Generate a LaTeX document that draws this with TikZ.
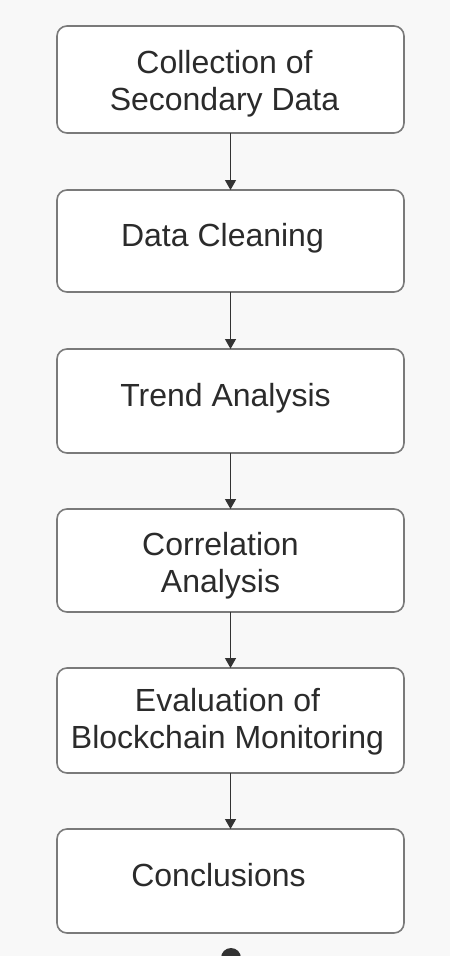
\documentclass[tikz,border=0pt]{standalone}
\usepackage{fontspec}
\setmainfont{Liberation Sans}
\usetikzlibrary{arrows.meta}
\definecolor{pagebg}{HTML}{F8F8F8}
\definecolor{boxline}{HTML}{7A7A7A}
\definecolor{ink}{HTML}{2B2B2B}
\definecolor{wire}{HTML}{333333}
\tikzset{
  stepbox/.style={draw=boxline, line width=1.6pt, fill=white, rounded corners=10pt,
    minimum width=347pt, inner sep=0pt, outer sep=0pt},
  lbl/.style={text=ink, font=\fontsize{32}{37}\selectfont, align=center, inner sep=0pt},
  flow/.style={draw=wire, line width=1.3pt, -{Triangle[length=10pt,width=11pt]}}
}
\begin{document}
\begin{tikzpicture}[x=1pt,y=-1pt]
  \useasboundingbox (0,0) rectangle (450,956);
  \clip (0,0) rectangle (450,956);
  \fill[pagebg] (0,0) rectangle (450,956);

  % process steps: box centre y and height
  \node[stepbox, minimum height=107pt] (s1) at (230.5,79.5) {};
  \node[stepbox, minimum height=102pt] (s2) at (230.5,241) {};
  \node[stepbox, minimum height=104pt] (s3) at (230.5,401) {};
  \node[stepbox, minimum height=103pt] (s4) at (230.5,560.5) {};
  \node[stepbox, minimum height=105pt] (s5) at (230.5,720.5) {};
  \node[stepbox, minimum height=104pt] (s6) at (230.5,881) {};

  \node[lbl] (t1) at ([xshift=-6pt,yshift=-4pt]s1.center) {Collection of\\Secondary Data};
  \node[lbl] (t2) at ([xshift=-8pt,yshift=3pt]s2.center) {Data Cleaning};
  \node[lbl] (t3) at ([xshift=-5pt,yshift=3pt]s3.center) {Trend Analysis};
  \node[lbl] (t4) at ([xshift=-10pt,yshift=-5pt]s4.center) {Correlation\\Analysis};
  \node[lbl] (t5) at ([xshift=-3pt,yshift=-1pt]s5.center) {Evaluation of\\Blockchain Monitoring};
  \node[lbl] (t6) at ([xshift=-12pt,yshift=6pt]s6.center) {Conclusions};

  % connectors
  \draw[flow] (s1.south) -- (s2.north);
  \draw[flow] (s2.south) -- (s3.north);
  \draw[flow] (s3.south) -- (s4.north);
  \draw[flow] (s4.south) -- (s5.north);
  \draw[flow] (s5.south) -- (s6.north);

  % dot at the foot of the chart
  \coordinate (foot) at (231,958);
  \fill[wire] (foot) circle (10pt);
\end{tikzpicture}
\end{document}
